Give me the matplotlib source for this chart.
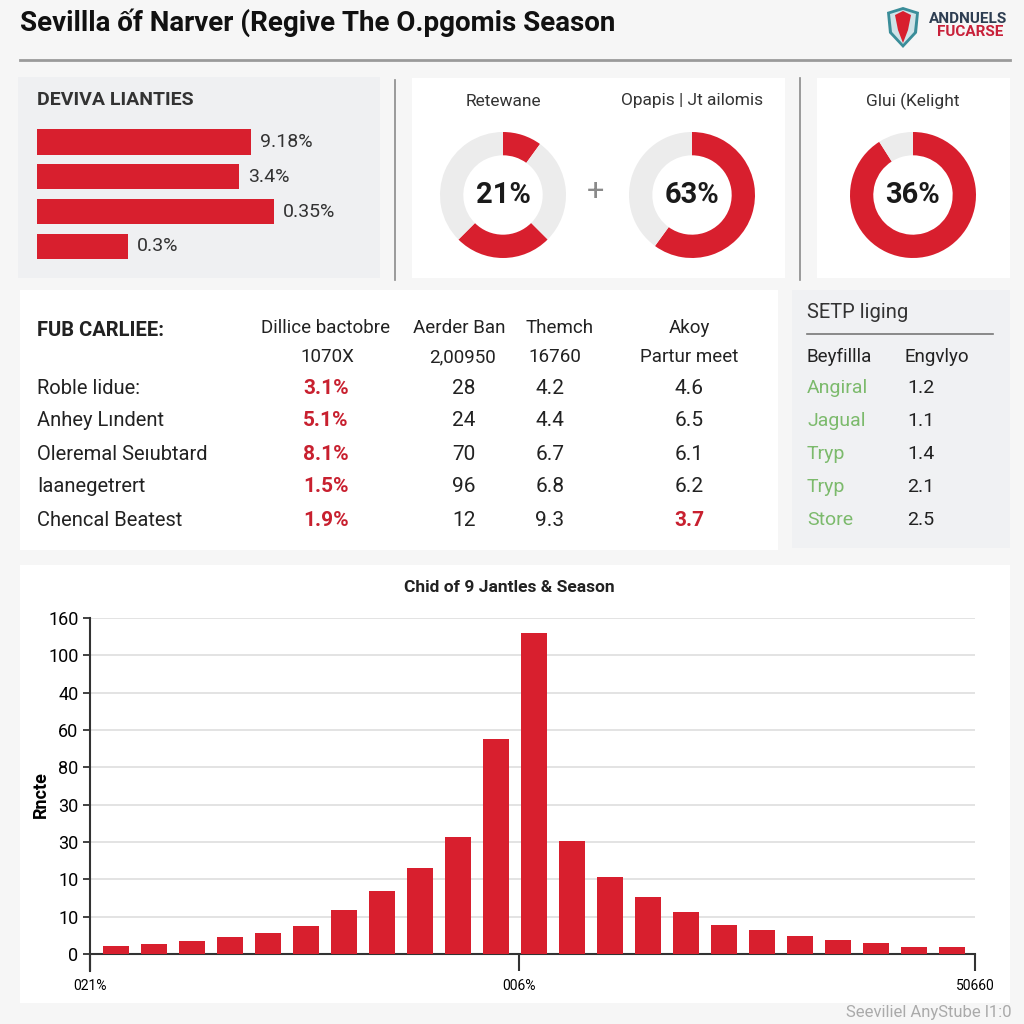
import matplotlib
matplotlib.use('Agg')
import matplotlib.pyplot as plt
from matplotlib.patches import Rectangle, Polygon
from matplotlib.lines import Line2D

plt.rcParams['font.family'] = ['Roboto', 'DejaVu Sans']

RED = '#d81f2e'
DARK = '#222222'
GREEN = '#7cba6c'
W = H = 1024

# ---- data ----
main_title = 'Sevillla ốf Narver (Regive The O.pgomis Season'

hbar_title = 'DEVIVA LIANTIES'
hbar_lengths = [214, 202, 237, 91]
hbar_labels = ['9.18%', '3.4%', '0.35%', '0.3%']

donut_titles = ['Retewane', 'Opapis | Jt ailomis', 'Glui (Kelight']
donut_labels = ['21%', '63%', '36%']
donut_parts = [[10, 27.5, 25, 37.5], [60, 40], [91, 9]]
donut_colors = [[RED, '#ececec', RED, '#ececec'], [RED, '#ececec'], [RED, '#ececec']]

table_title = 'FUB CARLIEE:'
col_head1 = ['Dillice bactobre', 'Aerder Ban', 'Themch', 'Akoy']
col_head2 = ['1070X', '2,00950', '16760', 'Partur meet']
row_names = ['Roble lidue:', 'Anhey Lındent', 'Oleremal Seıubtard', 'Iaanegetrert', 'Chencal Beatest']
col_pct = ['3.1%', '5.1%', '8.1%', '1.5%', '1.9%']
col_b = ['28', '24', '70', '96', '12']
col_c = ['4.2', '4.4', '6.7', '6.8', '9.3']
col_d = ['4.6', '6.5', '6.1', '6.2', '3.7']

side_title = 'SETP liging'
side_head = ['Beyfillla', 'Engvlyo']
side_names = ['Angiral', 'Jagual', 'Tryp', 'Tryp', 'Store']
side_vals = ['1.2', '1.1', '1.4', '2.1', '2.5']

chart_title = 'Chid of 9 Jantles & Season'
bar_heights = [0.22, 0.27, 0.34, 0.46, 0.56, 0.75, 1.19, 1.68, 2.32, 3.13, 5.77, 8.60,
               3.02, 2.06, 1.54, 1.14, 0.77, 0.65, 0.49, 0.38, 0.30, 0.20, 0.19]
ytick_labels = ['0', '10', '10', '30', '30', '80', '60', '40', '100', '160']
xtick_labels = ['021%', '006%', '50660']
ylabel = 'Rncte'
footer = 'Seeviliel AnyStube l1:0'


def fx(x):
    return x / W


def fy(y):
    return 1 - y / H


def add_ax(x0, y0, x1, y1):
    ax = fig.add_axes([fx(x0), fy(y1), (x1 - x0) / W, (y1 - y0) / H])
    ax.patch.set_alpha(0)
    return ax


def txt(x, y, s, **kw):
    kw.setdefault('va', 'center')
    kw.setdefault('color', DARK)
    fig.text(fx(x), fy(y), s, **kw)


def box(x0, y0, x1, y1, color):
    fig.add_artist(Rectangle((fx(x0), fy(y1)), (x1 - x0) / W, (y1 - y0) / H,
                             transform=fig.transFigure, facecolor=color,
                             edgecolor='none', zorder=-5))


def line(x0, y0, x1, y1, color='#8a8a8a', lw=1.2):
    fig.add_artist(Line2D([fx(x0), fx(x1)], [fy(y0), fy(y1)], transform=fig.transFigure,
                          color=color, lw=lw, zorder=-4))


fig = plt.figure(figsize=(10.24, 10.24), dpi=100, facecolor='#f6f6f6')

# header
txt(20, 23, main_title, fontsize=20, fontweight='bold', color='#111111')
line(20, 60, 1010, 60, color='#9a9a9a', lw=2)
lax = add_ax(884, 4, 922, 52)
lax.add_patch(Polygon([(887, 12), (903, 7), (919, 12), (917, 33), (903, 48), (889, 33)],
                      closed=True, facecolor='#3a8d99', edgecolor='none'))
lax.add_patch(Polygon([(890, 14), (903, 10), (916, 14), (914, 32), (903, 44), (892, 32)],
                      closed=True, facecolor='#cfe3e8', edgecolor='none'))
lax.add_patch(Polygon([(895, 15), (903, 11), (911, 15), (908, 30), (903, 43), (898, 30)],
                      closed=True, facecolor=RED, edgecolor='none'))
lax.set_xlim(884, 922)
lax.set_ylim(52, 4)
lax.axis('off')
txt(929, 19, 'ANDNUELS', fontsize=11, fontweight='bold', color='#2e3e52')
txt(937, 32, 'FUCARSE', fontsize=11, fontweight='bold', color='#c8213a')

# panel backgrounds
box(18, 77, 380, 278, '#eff0f2')
box(412, 78, 785, 278, 'white')
box(817, 78, 1010, 278, 'white')
box(20, 290, 778, 550, 'white')
box(792, 290, 1010, 548, '#f0f1f3')
box(20, 565, 1010, 1003, 'white')
line(395, 80, 395, 280)
line(800, 78, 800, 280)

# horizontal bars panel
txt(37, 100, hbar_title, fontsize=14, fontweight='bold', color='#333333')
hax = add_ax(37, 124.6, 380, 263.8)
pos = range(len(hbar_lengths))
hax.barh(pos, hbar_lengths, height=0.72, color=RED)
for p, v, lab in zip(pos, hbar_lengths, hbar_labels):
    hax.text(v + 9, p, lab, va='center', ha='left', fontsize=14, color='#333333')
hax.set_xlim(0, 343)
hax.set_ylim(3.5, -0.5)
hax.axis('off')

# donuts
donut_centers = [(503, 195), (692, 195), (913, 195)]
for (cx, cy), title, lab, parts, cols in zip(donut_centers, donut_titles, donut_labels,
                                            donut_parts, donut_colors):
    dax = add_ax(cx - 63, cy - 63, cx + 63, cy + 63)
    dax.pie(parts, colors=cols, startangle=90, counterclock=False, radius=1,
            wedgeprops=dict(width=0.37, edgecolor='none'))
    dax.set_xlim(-1, 1)
    dax.set_ylim(-1, 1)
    dax.text(0, 0, lab, ha='center', va='center', fontsize=21, fontweight='bold',
             color='#1a1a1a')
    txt(cx, 101, title, ha='center', fontsize=12.5, color='#333333')
txt(596, 192, '+', ha='center', fontsize=22, color='#8a8a8a')

# table
head_x = [326, 459, 560, 689]
sub_x = [327, 463, 555, 689]
val_x = [326, 464, 550, 689]
row_y = [388, 421, 454, 487, 520]
txt(37, 331, table_title, fontsize=14.5, fontweight='bold', color='#222222')
for x, h1 in zip(head_x, col_head1):
    txt(x, 328, h1, ha='center', fontsize=13.5)
for x, h2 in zip(sub_x, col_head2):
    txt(x, 357, h2, ha='center', fontsize=13.5)
for i, y in enumerate(row_y):
    last = i == len(row_y) - 1
    txt(37, y, row_names[i], fontsize=14.5)
    txt(val_x[0], y, col_pct[i], ha='center', fontsize=15, fontweight='bold', color='#c8202f')
    txt(val_x[1], y, col_b[i], ha='center', fontsize=15)
    txt(val_x[2], y, col_c[i], ha='center', fontsize=15)
    txt(val_x[3], y, col_d[i], ha='center', fontsize=15,
        color='#c8202f' if last else DARK, fontweight='bold' if last else 'normal')

# side table
txt(807, 313, side_title, fontsize=14.5, color='#333333')
line(807, 334, 993, 334, color='#777777', lw=1.2)
txt(807, 357, side_head[0], fontsize=13.5)
txt(905, 357, side_head[1], fontsize=13.5)
for y, n, v in zip(row_y, side_names, side_vals):
    txt(807, y, n, fontsize=14, color=GREEN)
    txt(907, y, v, fontsize=14)

# bottom bar chart
txt(509, 588, chart_title, ha='center', fontsize=12.5, fontweight='bold', color='#222222')
bax = add_ax(89.5, 618, 975, 971)
xs = list(range(len(bar_heights)))
bax.bar(xs, bar_heights, width=0.68, color=RED, zorder=3)
bax.set_xlim(-0.70, 22.6)
bax.set_ylim(-0.45, 9)
bax.set_yticks(range(len(ytick_labels)))
bax.set_yticklabels(ytick_labels, fontsize=13)
bax.yaxis.grid(True, color='#dedede', lw=1.2, zorder=0)
bax.set_axisbelow(True)
bax.set_xticks([-0.70, 10.6, 22.6])
bax.set_xticklabels(xtick_labels, fontsize=11)
bax.spines['bottom'].set_position(('data', 0))
bax.spines['top'].set_visible(False)
bax.spines['right'].set_visible(False)
for s in ('left', 'bottom'):
    bax.spines[s].set_color('#333333')
    bax.spines[s].set_linewidth(1.5)
bax.tick_params(axis='x', direction='out', length=12, width=1.5, color='#333333', pad=6)
bax.tick_params(axis='y', direction='out', length=5, width=1.3, color='#333333', pad=3)
bax.set_ylabel(ylabel, fontsize=13, fontweight='bold')
bax.yaxis.set_label_coords(-0.045, 0.5)

txt(1012, 1013, footer, ha='right', fontsize=12, color='#aaaaaa')

fig.savefig('out.png', dpi=100, facecolor=fig.get_facecolor())
